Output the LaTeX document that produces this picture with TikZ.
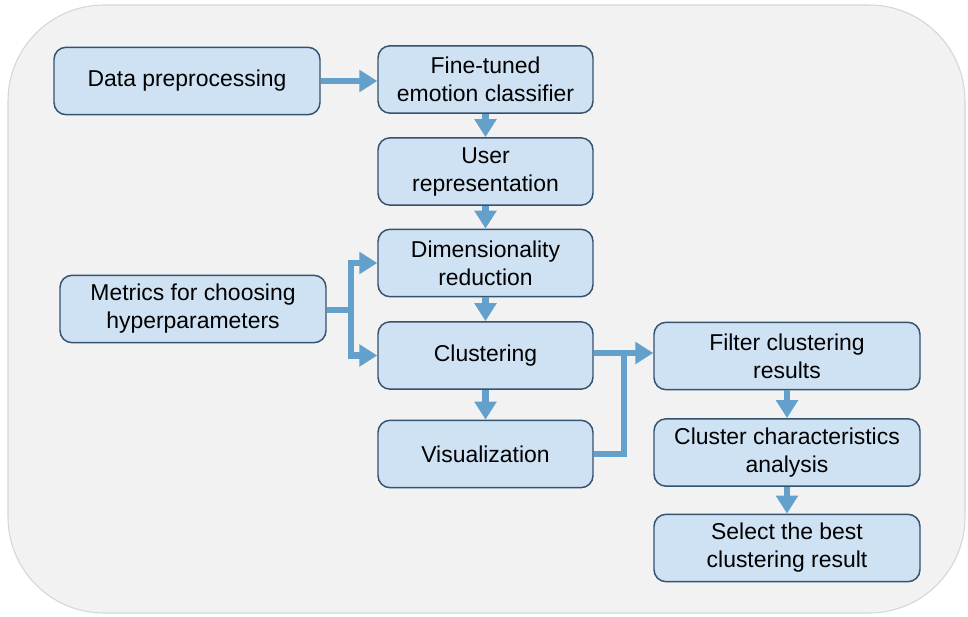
\documentclass[tikz,border=0pt]{standalone}
\usepackage{fontspec}
\setmainfont{Liberation Sans}
\usetikzlibrary{arrows.meta}
\definecolor{panelfill}{HTML}{F2F2F2}
\definecolor{panelline}{HTML}{D6D6D6}
\definecolor{boxfill}{HTML}{CFE2F3}
\definecolor{boxline}{HTML}{34536F}
\definecolor{flow}{HTML}{63A0CB}
\tikzset{
  stepbox/.style={draw=boxline, line width=1.1pt, fill=boxfill, rounded corners=9pt,
    align=center, inner sep=0pt,
    font=\fontsize{17.2}{21}\selectfont},
  narrowbox/.style={stepbox, minimum width=161.25pt, minimum height=50.5pt},
  widebox/.style={stepbox, minimum width=199.5pt, minimum height=50.5pt},
  flowarrow/.style={draw=flow, line width=4.6pt,
    -{Triangle[length=13.5pt, width=16pt]}},
  flowline/.style={draw=flow, line width=4.6pt},
}
\begin{document}
\begin{tikzpicture}[x=0.75pt, y=-0.75pt]
  \useasboundingbox (0,0) rectangle (968,617);
  \draw[panelline, fill=panelfill, line width=0.8pt, rounded corners=72pt]
    (8,5) rectangle (965,613);

  % main column
  \node[widebox] (prep) at (187,81) {Data preprocessing};
  \node[narrowbox] (clf) at (485.5,79.5) {Fine-tuned\\emotion classifier};
  \node[narrowbox] (user) at (485.5,171.5) {User\\representation};
  \node[narrowbox] (dim) at (485.5,263) {Dimensionality\\reduction};
  \node[narrowbox] (clu) at (485.5,355.5) {Clustering};
  \node[narrowbox] (vis) at (485.5,454) {Visualization};
  \node[widebox] (met) at (193,309) {Metrics for choosing\\hyperparameters};

  % result column
  \node[widebox] (filt) at (787,356) {Filter clustering\\results};
  \node[widebox] (char) at (787,452.5) {Cluster characteristics\\analysis};
  \node[widebox] (best) at (787,548) {Select the best\\clustering result};

  % connectors
  \draw[flowarrow] (prep.east) -- (clf.west |- prep.east);
  \draw[flowarrow] (clf.south) -- (user.north);
  \draw[flowarrow] (user.south) -- (dim.north);
  \draw[flowarrow] (dim.south) -- (clu.north);
  \draw[flowarrow] (clu.south) -- (vis.north);

  \coordinate (split) at (351,310);
  \draw[flowline] (met.east |- split) -- (split);
  \draw[flowarrow] (split) |- (dim.west);
  \draw[flowarrow] (split) |- (clu.west);

  \coordinate (join) at (624,353);
  \draw[flowarrow] (clu.east |- join) -- (filt.west |- join);
  \draw[flowline] (vis.east) -| (join);

  \draw[flowarrow] (filt.south) -- (char.north);
  \draw[flowarrow] (char.south) -- (best.north);
\end{tikzpicture}
\end{document}
